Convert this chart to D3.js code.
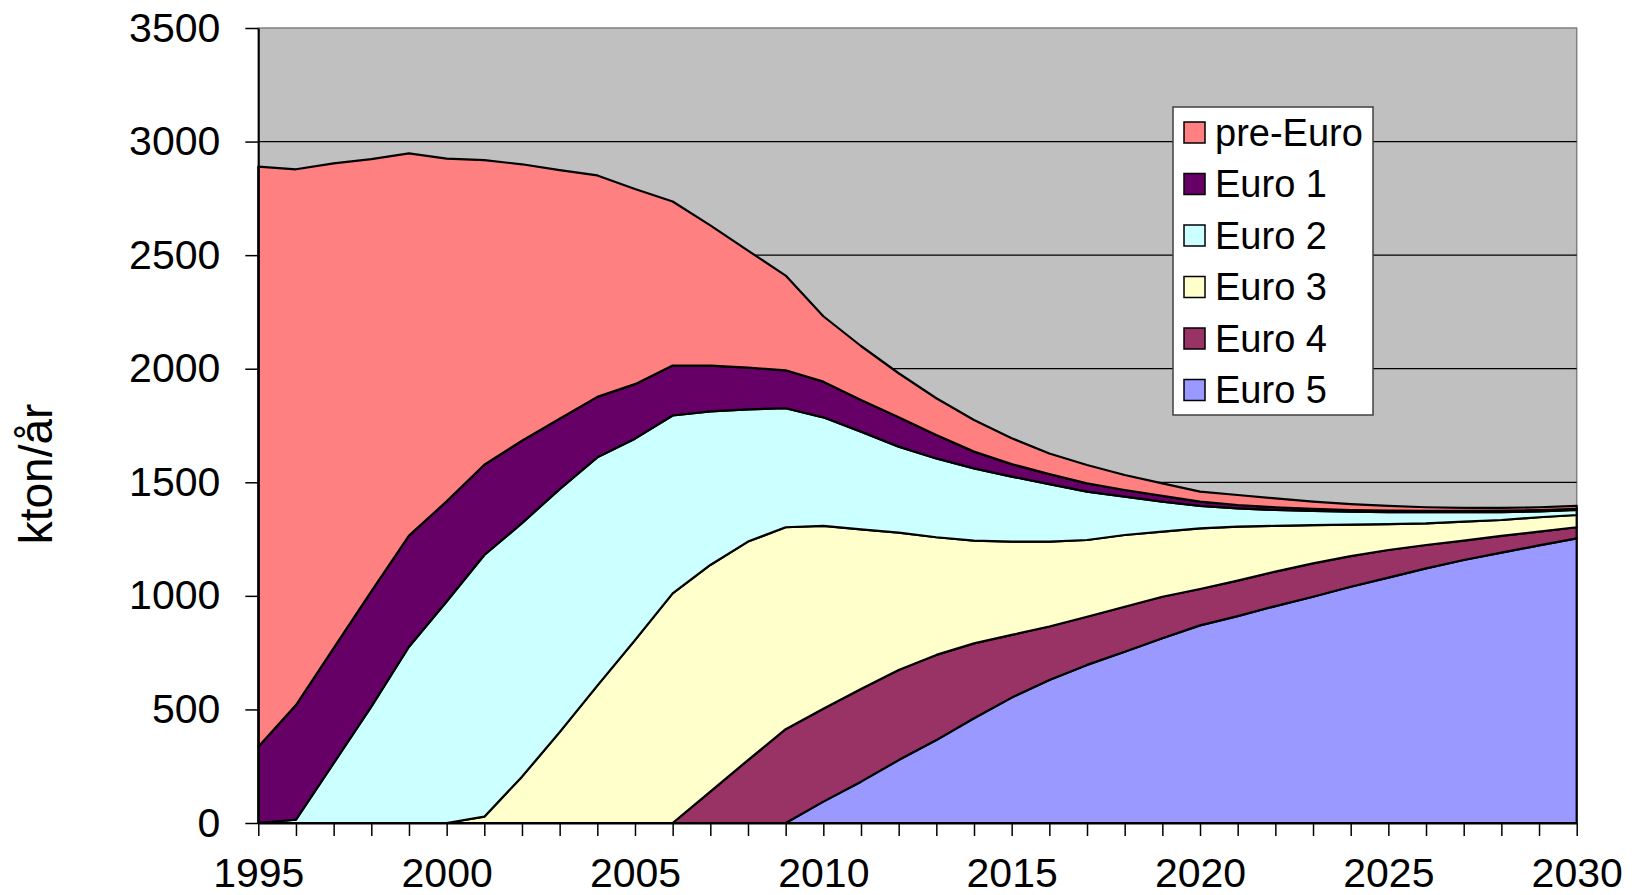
<!DOCTYPE html>
<meta charset="utf-8">
<script src="https://d3js.org/d3.v7.min.js"></script>
<html>
<head>
<style>
body { margin: 0; background: #fff; }
svg text { font-family: Arial, "Liberation Sans", sans-serif; fill: #000; }
</style>
</head>
<body>
<svg id="chart" width="1638" height="895"></svg>

<script>

// years on the x axis
var years = d3.range(1995, 2031);

// emissions per vehicle class, kton/år
var preEuro = [2554, 2359, 2134, 1903, 1683, 1509, 1341, 1217, 1094, 975, 859, 722, 617, 515, 417, 288, 238, 194, 162, 139,
  114, 91, 81, 66, 55, 44, 44, 39, 32, 26, 21, 16, 13, 12, 12, 13];
var euro1 = [336, 504, 507, 508, 489, 441, 397, 363, 310, 266, 240, 220, 202, 184, 167, 157, 139, 129, 103, 74,
  55, 44, 36, 29, 25, 19, 15, 12, 9, 7, 6, 6, 6, 6, 6, 5];
var euro2 = [0, 15, 263, 512, 776, 975, 1152, 1116, 1070, 1005, 887, 783, 676, 582, 524, 478, 430, 379, 347, 318,
  286, 253, 213, 169, 132, 99, 80, 70, 63, 57, 53, 49, 41, 35, 26, 22];
var euro3 = [0, 0, 0, 0, 0, 0, 28, 204, 400, 605, 805, 1011, 998, 962, 889, 805, 703, 604, 518, 452,
  411, 374, 338, 316, 287, 267, 238, 201, 168, 139, 114, 95, 84, 70, 63, 54];
var euro4 = [0, 0, 0, 0, 0, 0, 0, 0, 0, 0, 0, 0, 138, 277, 413, 409, 408, 397, 375, 330,
  276, 235, 212, 198, 183, 160, 156, 152, 147, 135, 122, 103, 85, 74, 61, 49];
var euro5 = [0, 0, 0, 0, 0, 0, 0, 0, 0, 0, 0, 0, 0, 0, 0, 94, 182, 277, 365, 461,
  552, 630, 696, 754, 813, 870, 911, 955, 996, 1040, 1080, 1121, 1158, 1190, 1222, 1253];

// legend order (top to bottom) and colours
var seriesNames = ["pre-Euro", "Euro 1", "Euro 2", "Euro 3", "Euro 4", "Euro 5"];
var seriesValues = [preEuro, euro1, euro2, euro3, euro4, euro5];
var seriesColors = ["#FF8080", "#660066", "#CCFFFF", "#FFFFCC", "#993366", "#9999FF"];

var yTicks = [0, 500, 1000, 1500, 2000, 2500, 3000, 3500];
var xLabels = [1995, 2000, 2005, 2010, 2015, 2020, 2025, 2030];

var svg = d3.select("#chart");

var plotLeft = 258.3, plotRight = 1576.7, plotTop = 28, plotBottom = 823;

var x = d3.scaleLinear().domain([1995, 2030]).range([plotLeft, plotRight]);
var y = d3.scaleLinear().domain([0, 3500]).range([plotBottom, plotTop]);

// build rows for the stack
var rows = years.map(function(yr, i) {
  var r = { year: yr };
  seriesNames.forEach(function(n, j) { r[n] = seriesValues[j][i]; });
  return r;
});

// stack bottom-up: Euro 5 at the bottom, pre-Euro on top
var keys = seriesNames.slice().reverse();
var color = d3.scaleOrdinal().domain(seriesNames).range(seriesColors);
var stacked = d3.stack().keys(keys)(rows);

// plot background
svg.append("rect")
  .attr("x", plotLeft).attr("y", plotTop)
  .attr("width", plotRight - plotLeft).attr("height", plotBottom - plotTop)
  .attr("fill", "#C0C0C0")
  .attr("stroke", "#808080")
  .attr("stroke-width", 1.5);

// gridlines
svg.append("g")
  .selectAll("line")
  .data(yTicks.slice(1, -1))
  .enter()
  .append("line")
    .attr("x1", plotLeft).attr("x2", plotRight)
    .attr("y1", function(d){ return y(d) }).attr("y2", function(d){ return y(d) })
    .attr("stroke", "#000")
    .attr("stroke-width", 1.2);

// areas
var area = d3.area()
  .x(function(d){ return x(d.data.year) })
  .y0(function(d){ return y(d[0]) })
  .y1(function(d){ return y(d[1]) });

svg.append("g")
  .selectAll("path")
  .data(stacked)
  .enter()
  .append("path")
    .attr("d", area)
    .attr("fill", function(d){ return color(d.key) })
    .attr("stroke", "#000")
    .attr("stroke-width", 2.2)
    .attr("stroke-linejoin", "round");

// y axis
var yAxis = d3.axisLeft(y).tickValues(yTicks).tickFormat(d3.format("d"))
  .tickSize(13).tickSizeOuter(0).tickPadding(25);
var gy = svg.append("g").attr("transform", "translate(" + plotLeft + ",0)").call(yAxis);
gy.select(".domain").attr("stroke", "#000").attr("stroke-width", 2);
gy.selectAll(".tick line").attr("stroke", "#000").attr("stroke-width", 1.5);
gy.selectAll(".tick text")
  .attr("font-size", 41)
  .attr("dy", "0.32em")
  .style("font-family", "Arial, 'Liberation Sans', sans-serif");

// x axis: tick every year, label every five
var xAxis = d3.axisBottom(x).tickValues(years).tickSize(13).tickSizeOuter(0).tickPadding(22)
  .tickFormat(function(d){ return xLabels.indexOf(d) >= 0 ? d : "" });
var gx = svg.append("g").attr("transform", "translate(0," + plotBottom + ")").call(xAxis);
gx.select(".domain").attr("stroke", "#000").attr("stroke-width", 2);
gx.selectAll(".tick line").attr("stroke", "#000").attr("stroke-width", 1.5);
gx.selectAll(".tick text")
  .attr("font-size", 41)
  .attr("dy", "0.71em")
  .style("font-family", "Arial, 'Liberation Sans', sans-serif");

// y axis title
svg.append("text")
  .attr("transform", "translate(52,474) rotate(-90)")
  .attr("text-anchor", "middle")
  .attr("font-size", 46)
  .text("kton/år");

// legend
var legend = svg.append("g").attr("transform", "translate(1173,107)");
legend.append("rect")
  .attr("width", 200).attr("height", 308)
  .attr("fill", "#fff")
  .attr("stroke", "#404040")
  .attr("stroke-width", 1.5);

var item = legend.selectAll(".item")
  .data(seriesNames)
  .enter()
  .append("g")
    .attr("class", "item")
    .attr("transform", function(d, i){ return "translate(0," + (25.5 + i * 51.5) + ")" });

item.append("rect")
  .attr("x", 11).attr("y", -10.5)
  .attr("width", 21).attr("height", 21)
  .attr("fill", function(d){ return color(d) })
  .attr("stroke", "#000")
  .attr("stroke-width", 1.5);

item.append("text")
  .attr("x", 42)
  .attr("dy", "0.35em")
  .attr("font-size", 38)
  .text(function(d){ return d });

</script>
</body>
</html>
